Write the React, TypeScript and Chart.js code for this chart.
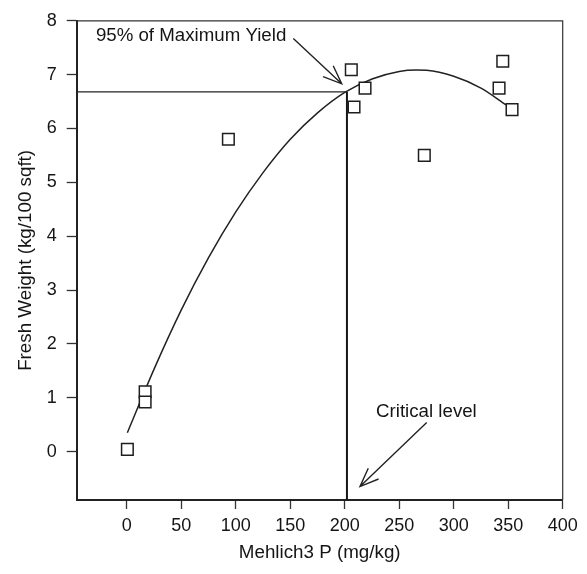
import React, { useEffect, useRef } from "react";
import { Chart, registerables } from "chart.js";

Chart.register(...registerables);

// Observed data: Mehlich3 P (mg/kg) vs fresh weight (kg/100 sqft)
const obsP = [0.5, 16.8, 16.8, 93.2, 206, 208.5, 218.6, 273, 341.6, 345, 353.5];
const obsYield = [0.04, 1.11, 0.92, 5.8, 7.09, 6.4, 6.75, 5.5, 6.75, 7.25, 6.35];

// Fitted response curve
const fitP = [0.5, 25, 50, 75, 100, 125, 150, 175, 200, 225, 250, 266, 275, 300, 325, 348];
const fitYield = [0.35, 1.53, 2.63, 3.6, 4.45, 5.18, 5.8, 6.29, 6.67, 6.92, 7.06, 7.085, 7.08, 6.97, 6.75, 6.44];

// Critical level / 95% of maximum yield
const critP = 202;
const yield95 = 6.68;

// Axes
const xMin = -46;
const xMax = 400;
const yMin = -0.9;
const yMax = 8;
const xTicks = [0, 50, 100, 150, 200, 250, 300, 350, 400];
const yTicks = [0, 1, 2, 3, 4, 5, 6, 7, 8];
const xTitle = "Mehlich3 P (mg/kg)";
const yTitle = "Fresh Weight (kg/100 sqft)";

// Annotations (data coordinates)
const noteTexts = ["95% of Maximum Yield", "Critical level"];
const noteX = [-28.4, 228.7];
const noteY = [7.72, 0.74];
const arrowFromX = [152.8, 275.2];
const arrowFromY = [7.67, 0.54];
const arrowToX = [197.2, 214];
const arrowToY = [6.83, -0.65];

const FONT = "'Liberation Sans', Arial, Helvetica, sans-serif";
const INK = "#151515";

const annotationPlugin = {
  id: "annotations",
  afterDatasetsDraw(chart: any) {
    const { ctx, chartArea, scales } = chart;
    const xs = scales.x;
    const ys = scales.y;
    ctx.save();
    // top and right frame
    ctx.strokeStyle = "#333";
    ctx.lineWidth = 1.2;
    ctx.beginPath();
    ctx.moveTo(chartArea.left, chartArea.top);
    ctx.lineTo(chartArea.right, chartArea.top);
    ctx.lineTo(chartArea.right, chartArea.bottom);
    ctx.stroke();

    // texts
    ctx.fillStyle = INK;
    ctx.font = `18.7px ${FONT}`;
    ctx.textAlign = "left";
    ctx.textBaseline = "middle";
    noteTexts.forEach((t, i) => {
      ctx.fillText(t, xs.getPixelForValue(noteX[i]), ys.getPixelForValue(noteY[i]));
    });

    // arrows
    ctx.strokeStyle = "#222";
    ctx.lineWidth = 1.4;
    arrowFromX.forEach((_, i) => {
      const ax = xs.getPixelForValue(arrowFromX[i]);
      const ay = ys.getPixelForValue(arrowFromY[i]);
      const bx = xs.getPixelForValue(arrowToX[i]);
      const by = ys.getPixelForValue(arrowToY[i]);
      const ang = Math.atan2(by - ay, bx - ax);
      const L = 20;
      const th = 0.38;
      ctx.beginPath();
      ctx.moveTo(ax, ay);
      ctx.lineTo(bx, by);
      ctx.moveTo(bx - L * Math.cos(ang - th), by - L * Math.sin(ang - th));
      ctx.lineTo(bx, by);
      ctx.lineTo(bx - L * Math.cos(ang + th), by - L * Math.sin(ang + th));
      ctx.stroke();
    });
    ctx.restore();
  },
};

export default function App() {
  const ref = useRef<HTMLCanvasElement | null>(null);

  useEffect(() => {
    document.body.style.margin = "0";
    const canvas = ref.current;
    if (!canvas) return;

    const obs = obsP.map((x, i) => ({ x, y: obsYield[i] }));
    const fit = fitP.map((x, i) => ({ x, y: fitYield[i] }));
    const hLine = [
      { x: xMin, y: yield95 },
      { x: critP, y: yield95 },
    ];
    const vLine = [
      { x: critP, y: yield95 },
      { x: critP, y: yMin },
    ];

    const chart = new Chart(canvas, {
      type: "scatter",
      data: {
        datasets: [
          {
            label: "Observed",
            data: obs,
            pointStyle: "rect",
            pointRadius: 8.2,
            pointHoverRadius: 8.2,
            pointBorderWidth: 1.5,
            pointBorderColor: "#1e1e1e",
            pointBackgroundColor: "#ffffff",
            showLine: false,
          },
          {
            label: "Fit",
            data: fit,
            showLine: true,
            pointRadius: 0,
            borderColor: "#222",
            borderWidth: 1.5,
            tension: 0.4,
            cubicInterpolationMode: "monotone",
          },
          {
            label: "95%",
            data: hLine,
            showLine: true,
            pointRadius: 0,
            borderColor: "#222",
            borderWidth: 1.4,
          },
          {
            label: "Critical",
            data: vLine,
            showLine: true,
            pointRadius: 0,
            borderColor: "#151515",
            borderWidth: 2,
          },
        ],
      },
      options: {
        responsive: false,
        animation: false,
        events: [],
        layout: { padding: { left: 0, right: 24.3, top: 18, bottom: 0 } },
        plugins: {
          legend: { display: false },
          tooltip: { enabled: false },
        },
        scales: {
          x: {
            type: "linear",
            min: xMin,
            max: xMax,
            afterBuildTicks: (s: any) => {
              s.ticks = xTicks.map((v) => ({ value: v }));
            },
            afterFit: (s: any) => {
              s.height = 74;
            },
            grid: {
              drawOnChartArea: false,
              drawTicks: true,
              tickLength: 9,
              tickWidth: 1.3,
              tickColor: "#333",
            },
            border: { display: true, width: 2, color: "#222" },
            ticks: {
              color: INK,
              font: { family: FONT, size: 18 },
              padding: 6,
              maxRotation: 0,
              autoSkip: false,
            },
            title: {
              display: true,
              text: xTitle,
              color: INK,
              font: { family: FONT, size: 18.8 },
              padding: { top: 0, bottom: 10 },
            },
          },
          y: {
            type: "linear",
            min: yMin,
            max: yMax,
            afterBuildTicks: (s: any) => {
              s.ticks = yTicks.map((v) => ({ value: v }));
            },
            afterFit: (s: any) => {
              s.width = 76.7;
            },
            grid: {
              drawOnChartArea: false,
              drawTicks: true,
              tickLength: 10,
              tickWidth: 1.3,
              tickColor: "#333",
            },
            border: { display: true, width: 2, color: "#222" },
            ticks: {
              color: INK,
              font: { family: FONT, size: 18 },
              padding: 10,
              autoSkip: false,
            },
            title: {
              display: true,
              text: yTitle,
              color: INK,
              font: { family: FONT, size: 18.8 },
              padding: { top: 15, bottom: 0 },
            },
          },
        },
      },
      plugins: [annotationPlugin],
    } as any);

    return () => chart.destroy();
  }, []);

  return (
    <div style={{ width: 587, height: 574, position: "relative", background: "#fff" }}>
      <canvas ref={ref} width={587} height={574} style={{ width: 587, height: 574, display: "block" }} />
    </div>
  );
}
